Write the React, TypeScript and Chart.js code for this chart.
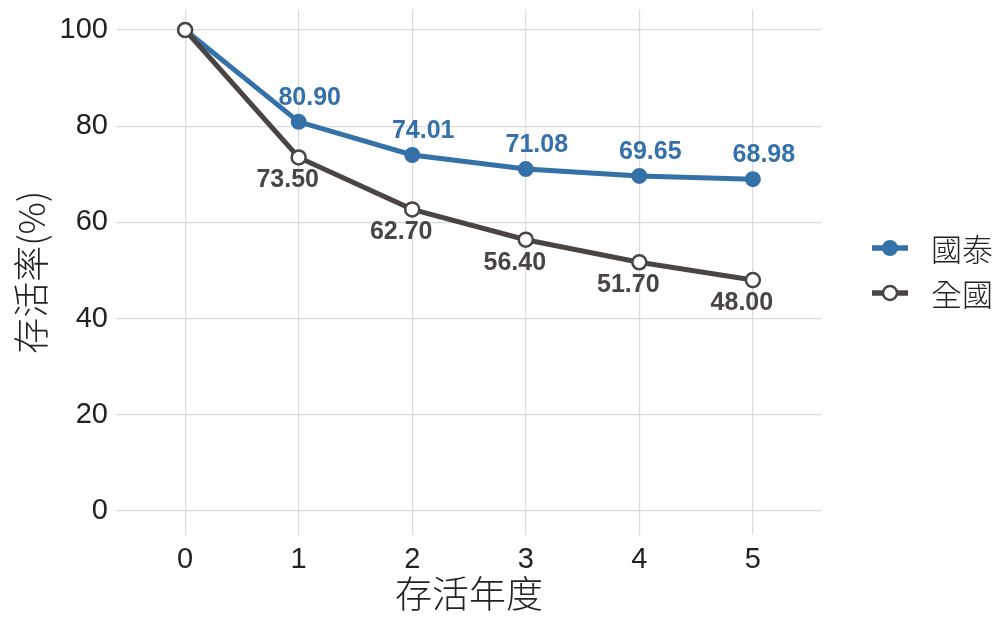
import React, { useEffect, useRef } from "react";
import { Chart, registerables } from "chart.js";

Chart.register(...registerables);

const years = [0, 1, 2, 3, 4, 5];
const cathayValues = [100, 80.9, 74.01, 71.08, 69.65, 68.98];
const nationalValues = [100, 73.5, 62.7, 56.4, 51.7, 48.0];
const seriesNames = ["國泰", "全國"];
const xTicks = [0, 1, 2, 3, 4, 5];
const yTicks = [0, 20, 40, 60, 80, 100];
const xTitle = "存活年度";
const yTitle = "存活率(%)";

const BLUE = "#3471a8";
const GRAY = "#4a4543";
const TEXT = "#222222";
const GRID = "#dadada";
const NUM_FONT = '"Liberation Sans", Arial, sans-serif';
const CJK_FONT = '"Noto Sans CJK TC", "Noto Sans CJK SC", sans-serif';

const labelStyles = [
  { color: BLUE, dx: 11, dy: -24 },
  { color: GRAY, dx: -11, dy: 23 },
];

const valueLabelPlugin = {
  id: "valueLabels",
  afterDatasetsDraw(chart: any) {
    const ctx = chart.ctx;
    chart.data.datasets.forEach((ds: any, di: number) => {
      const meta = chart.getDatasetMeta(di);
      const st = labelStyles[di];
      meta.data.forEach((el: any, i: number) => {
        if (i === 0) return;
        const v = ds.data[i].y as number;
        ctx.save();
        ctx.font = `bold 25px ${NUM_FONT}`;
        ctx.fillStyle = st.color;
        ctx.textAlign = "center";
        ctx.textBaseline = "middle";
        ctx.fillText(v.toFixed(2), el.x + st.dx, el.y + st.dy);
        ctx.restore();
      });
    });
  },
};

const legendPlugin = {
  id: "sideLegend",
  afterDraw(chart: any) {
    const ctx = chart.ctx;
    const ys = [248, 293];
    chart.data.datasets.forEach((ds: any, i: number) => {
      const y = ys[i];
      ctx.save();
      ctx.strokeStyle = ds.borderColor;
      ctx.lineWidth = 5.5;
      ctx.beginPath();
      ctx.moveTo(872, y);
      ctx.lineTo(908, y);
      ctx.stroke();
      ctx.beginPath();
      ctx.arc(890, y, 7, 0, Math.PI * 2);
      ctx.fillStyle = ds.pointBackgroundColor;
      ctx.fill();
      ctx.lineWidth = ds.pointBorderWidth;
      ctx.strokeStyle = ds.pointBorderColor;
      ctx.stroke();
      ctx.fillStyle = TEXT;
      ctx.font = `300 31px ${CJK_FONT}`;
      ctx.textAlign = "left";
      ctx.textBaseline = "middle";
      ctx.fillText(ds.label, 931, y + 1);
      ctx.restore();
    });
  },
};

export default function App() {
  const ref = useRef<HTMLCanvasElement | null>(null);

  useEffect(() => {
    document.body.style.margin = "0";
    const canvas = ref.current;
    if (!canvas) return;
    const chart = new Chart(canvas, {
      type: "line",
      data: {
        datasets: [
          {
            label: seriesNames[0],
            data: years.map((x, i) => ({ x, y: cathayValues[i] })),
            borderColor: BLUE,
            backgroundColor: BLUE,
            borderWidth: 5,
            pointRadius: 7,
            pointBackgroundColor: BLUE,
            pointBorderColor: BLUE,
            pointBorderWidth: 2,
            tension: 0,
            order: 2,
          },
          {
            label: seriesNames[1],
            data: years.map((x, i) => ({ x, y: nationalValues[i] })),
            borderColor: GRAY,
            backgroundColor: GRAY,
            borderWidth: 5,
            pointRadius: 7,
            pointBackgroundColor: "#ffffff",
            pointBorderColor: GRAY,
            pointBorderWidth: 2.5,
            tension: 0,
            order: 1,
          },
        ],
      },
      options: {
        animation: false,
        responsive: false,
        devicePixelRatio: 1,
        layout: { padding: { top: 3, right: 175, left: 0, bottom: 0 } },
        plugins: {
          legend: { display: false },
          tooltip: { enabled: false },
        },
        scales: {
          x: {
            type: "linear",
            min: -0.6,
            max: 5.6,
            afterBuildTicks: (s: any) => {
              s.ticks = xTicks.map((v) => ({ value: v }));
            },
            afterFit: (s: any) => {
              s.height = 83;
              s.paddingLeft = 0;
              s.paddingRight = 0;
            },
            border: { display: false },
            grid: { color: GRID, lineWidth: 1.2, drawTicks: false },
            ticks: {
              padding: 8,
              color: TEXT,
              font: { family: NUM_FONT, size: 29 },
              maxRotation: 0,
            },
            title: {
              display: true,
              text: xTitle,
              color: TEXT,
              font: { family: CJK_FONT, size: 37, weight: "300" as any },
              padding: { top: 0, bottom: 2 },
            },
          },
          y: {
            type: "linear",
            min: -5,
            max: 104.26,
            afterBuildTicks: (s: any) => {
              s.ticks = yTicks.map((v) => ({ value: v }));
            },
            afterFit: (s: any) => {
              s.width = 117;
              s.paddingTop = 0;
              s.paddingBottom = 0;
            },
            border: { display: false },
            grid: { color: GRID, lineWidth: 1.2, drawTicks: false },
            ticks: {
              padding: 9,
              color: TEXT,
              font: { family: NUM_FONT, size: 29 },
            },
            title: {
              display: true,
              text: yTitle,
              color: TEXT,
              font: { family: CJK_FONT, size: 36, weight: "300" as any },
              padding: { top: 10, bottom: 0 },
            },
          },
        },
      } as any,
      plugins: [valueLabelPlugin, legendPlugin],
    });
    return () => chart.destroy();
  }, []);

  return (
    <div style={{ width: 996, height: 618 }}>
      <canvas ref={ref} width={996} height={618} style={{ width: 996, height: 618, display: "block" }} />
    </div>
  );
}
